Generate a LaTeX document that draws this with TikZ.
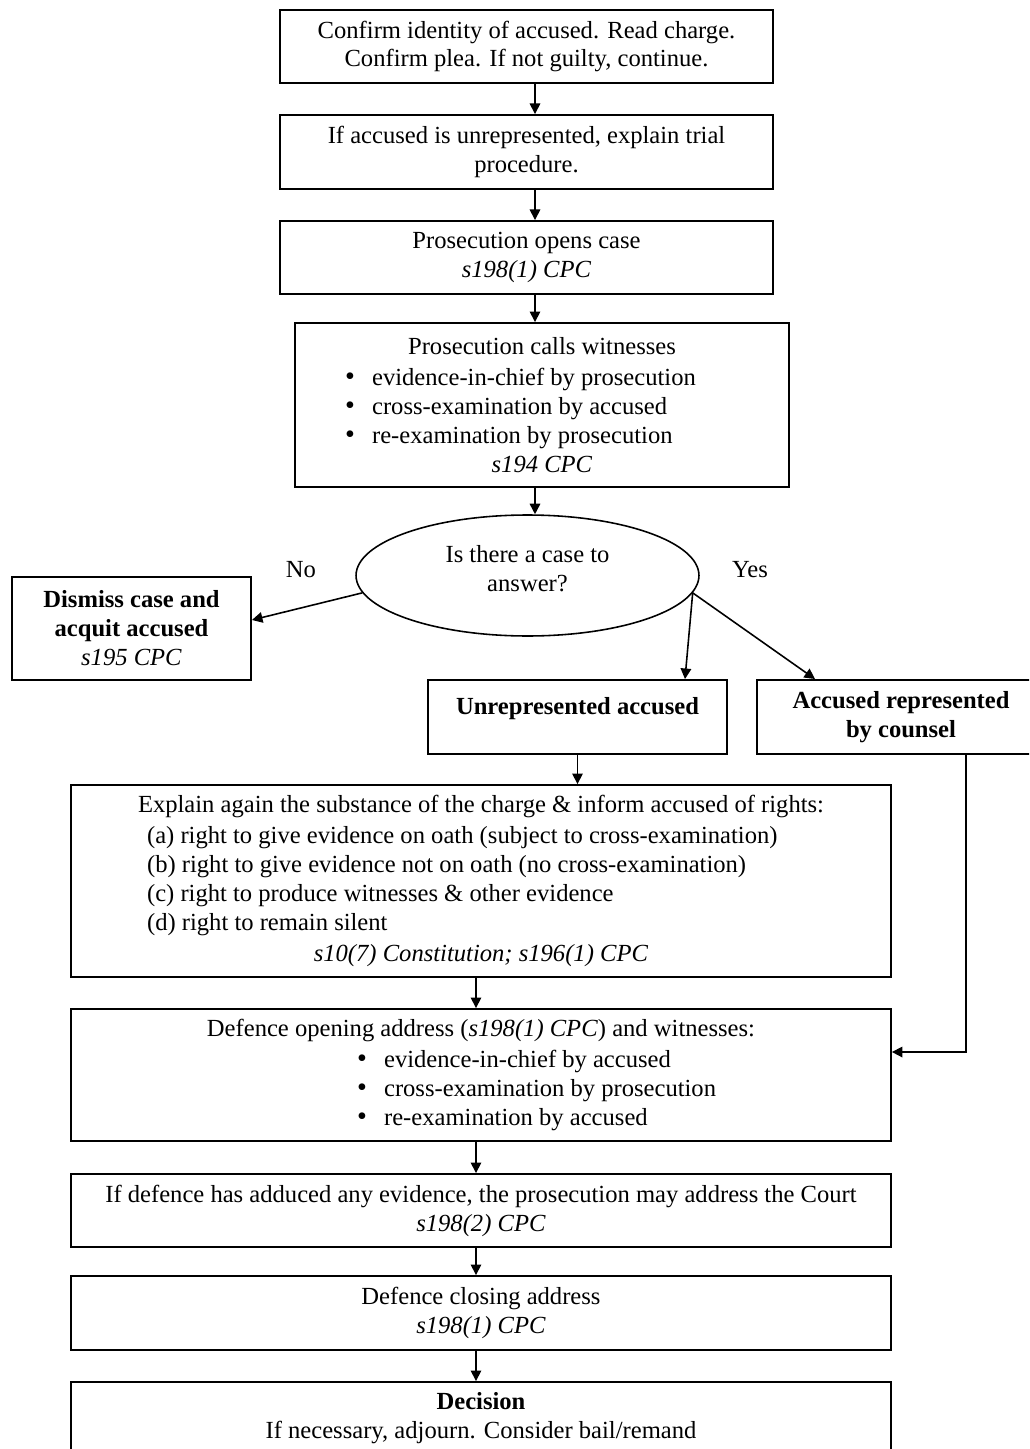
\documentclass[tikz,border=0pt]{standalone}
\usepackage{fontspec}
\setmainfont{Liberation Serif}
\usetikzlibrary{shapes.geometric,arrows.meta,positioning,calc}

\newcommand{\bul}{{\fontsize{16}{16.5}\selectfont\textbullet}\hspace{0.7em}}
\newcommand{\lft}[2]{\makebox[#1][l]{#2}}

\begin{document}
\begin{tikzpicture}[x=0.02cm,y=-0.02cm,
    box/.style={draw, line width=1.1pt, align=center, inner sep=2pt,
        font=\fontsize{14}{16.5}\selectfont},
    wide/.style={box, minimum width=16.4cm},
    arr/.style={-{Triangle[length=6pt,width=6pt]}, line width=0.9pt},
    lbl/.style={font=\fontsize{14}{16.5}\selectfont}]
    \clip (0,0) rectangle (1029,1449);
    \coordinate (spine) at (535,0);
    \coordinate (spinelow) at (476,0);
    \coordinate (rail) at (966,0);

    % top of the trial
    \node[box, minimum width=9.86cm, minimum height=1.46cm] (confirm) at (526.5,46.5)
        {Confirm identity of accused. Read charge.\\Confirm plea. If not guilty, continue.};
    \node[box, minimum width=9.86cm, minimum height=1.48cm] (trial) at (526.5,152)
        {If accused is unrepresented, explain trial\\procedure.};
    \node[box, minimum width=9.86cm, minimum height=1.46cm] (opens) at (526.5,257.5)
        {Prosecution opens case\\\textit{s198(1) CPC}};
    \node[box, minimum width=9.88cm, minimum height=3.28cm] (calls) at (542,405)
        {Prosecution calls witnesses\\[1pt]
        \lft{7.88cm}{\bul evidence-in-chief by prosecution}\\
        \lft{7.88cm}{\bul cross-examination by accused}\\
        \lft{7.88cm}{\bul re-examination by prosecution}\\
        \textit{s194 CPC}};

    % case to answer
    \node[box, ellipse, line width=0.9pt, minimum width=6.86cm, minimum height=2.42cm] (answer) at (527.5,575.5)
        {Is there a case to\\answer?\\[-0.3cm]\mbox{}};
    \node[lbl] (no) at (301,570) {No};
    \node[lbl] (yes) at (750,570) {Yes};
    \node[box, minimum width=4.78cm, minimum height=2.06cm] (dismiss) at (131.5,628.5)
        {\textbf{Dismiss case and}\\\textbf{acquit accused}\\\textit{s195 CPC}};
    \node[box, minimum width=5.98cm, minimum height=1.48cm] (unrep) at (577.5,717)
        {\textbf{Unrepresented accused}\\[-0.15cm]\mbox{}};
    \node[box, minimum width=5.76cm, minimum height=1.48cm] (counsel) at (901,717)
        {\textbf{Accused represented}\\\textbf{by counsel}};

    % defence case
    \node[wide, minimum height=3.84cm] (rights) at (481,881)
        {Explain again the substance of the charge \& inform accused of rights:\\[1pt]
        \lft{13.36cm}{(a) right to give evidence on oath (subject to cross-examination)}\\
        \lft{13.36cm}{(b) right to give evidence not on oath (no cross-examination)}\\
        \lft{13.36cm}{(c) right to produce witnesses \& other evidence}\\
        \lft{13.36cm}{(d) right to remain silent}\\[1pt]
        \textit{s10(7) Constitution; s196(1) CPC}};
    \node[wide, minimum height=2.64cm] (defence) at (481,1075)
        {Defence opening address (\textit{s198(1) CPC}) and witnesses:\\[1pt]
        \lft{4.96cm}{\bul evidence-in-chief by accused}\\
        \lft{4.96cm}{\bul cross-examination by prosecution}\\
        \lft{4.96cm}{\bul re-examination by accused}};
    \node[wide, minimum height=1.46cm] (adduced) at (481,1210.5)
        {If defence has adduced any evidence, the prosecution may address the Court\\\textit{s198(2) CPC}};
    \node[wide, minimum height=1.48cm] (closing) at (481,1313)
        {Defence closing address\\\textit{s198(1) CPC}};
    \node[wide, minimum height=1.44cm] (decision) at (481,1418)
        {\textbf{Decision}\\If necessary, adjourn.  Consider bail/remand};

    % connectors
    \draw[arr] (confirm.south -| spine) -- (trial.north -| spine);
    \draw[arr] (trial.south -| spine) -- (opens.north -| spine);
    \draw[arr] (opens.south -| spine) -- (calls.north -| spine);
    \draw[arr] (calls.south -| spine) -- (answer.north -| spine);
    \draw[arr] (answer.186) -- ([yshift=0.17cm]dismiss.east);
    \draw[arr] (answer.354) -- ([xshift=2.15cm]unrep.north);
    \draw[arr] (answer.354) -- ([xshift=-1.72cm]counsel.north);
    \draw[arr] (unrep.south) -- (unrep.south |- rights.north);
    \draw[arr] (counsel.south -| rail) |- ([yshift=0.46cm]defence.east);
    \draw[arr] (rights.south -| spinelow) -- (defence.north -| spinelow);
    \draw[arr] (defence.south -| spinelow) -- (adduced.north -| spinelow);
    \draw[arr] (adduced.south -| spinelow) -- (closing.north -| spinelow);
    \draw[arr] (closing.south -| spinelow) -- (decision.north -| spinelow);
\end{tikzpicture}
\end{document}
